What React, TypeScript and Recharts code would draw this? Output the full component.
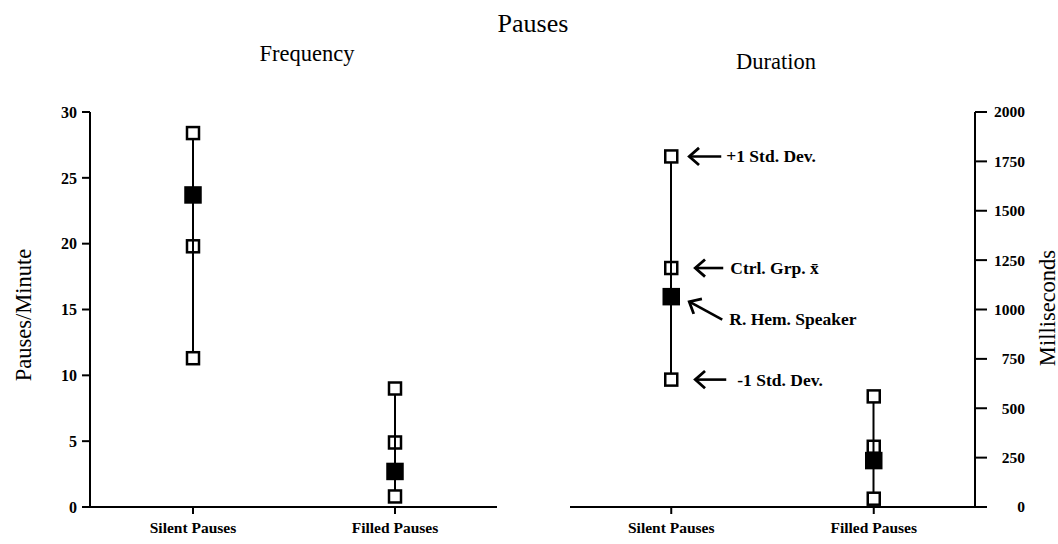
import React from 'react';
import { ComposedChart, Bar, Scatter, XAxis, YAxis } from 'recharts';

const categories = ['Silent Pauses', 'Filled Pauses'];

// Frequency (pauses per minute)
const freqPlusSD = [28.4, 9.0];
const freqCtrlMean = [19.8, 4.9];
const freqMinusSD = [11.3, 0.8];
const freqSpeaker = [23.7, 2.7];
const freqTicks = [0, 5, 10, 15, 20, 25, 30];

// Duration (milliseconds)
const durPlusSD = [1775, 560];
const durCtrlMean = [1210, 305];
const durMinusSD = [645, 42];
const durSpeaker = [1065, 235];
const durTicks = [0, 250, 500, 750, 1000, 1250, 1500, 1750, 2000];

// annotation texts for the silent pauses column of the duration panel
const noteHi = '+1 Std. Dev.';
const noteMean = 'Ctrl. Grp. x\u0304';
const noteSpk = 'R. Hem. Speaker';
const noteLo = '-1 Std. Dev.';

const FONT = '"Liberation Serif", "Times New Roman", serif';

const buildRows = (hi: number[], mean: number[], lo: number[], spk: number[]) =>
  categories.map((cat, i) => ({
    cat,
    range: [lo[i], hi[i]],
    hi: hi[i],
    mean: mean[i],
    lo: lo[i],
    spk: spk[i],
  }));

const freqRows = buildRows(freqPlusSD, freqCtrlMean, freqMinusSD, freqSpeaker);
const durRows = buildRows(durPlusSD, durCtrlMean, durMinusSD, durSpeaker);

// arrow placement relative to the marker (tip, tail, label)
const arrowStyle: Record<string, { tip: number[]; tail: number[]; label: number[] }> = {
  hi: { tip: [18, 0], tail: [50, 0], label: [55, 6] },
  mean: { tip: [24, 0], tail: [52, 0], label: [59, 6] },
  spk: { tip: [18, 5], tail: [51, 23], label: [58, 28] },
  lo: { tip: [24, 0], tail: [55, 0], label: [66, 6] },
};

const Arrow = ({ cx, cy, kind, text }: any) => {
  const s = arrowStyle[kind];
  const tx = cx + s.tip[0];
  const ty = cy + s.tip[1];
  const ex = cx + s.tail[0];
  const ey = cy + s.tail[1];
  const a = Math.atan2(ey - ty, ex - tx);
  const h = 13;
  const w = 0.72;
  return (
    <g>
      <line x1={tx} y1={ty} x2={ex} y2={ey} stroke="#000" strokeWidth={2.6} />
      <polyline
        points={`${tx + h * Math.cos(a - w)},${ty + h * Math.sin(a - w)} ${tx},${ty} ${tx + h * Math.cos(a + w)},${ty + h * Math.sin(a + w)}`}
        fill="none"
        stroke="#000"
        strokeWidth={2.8}
      />
      <text
        x={cx + s.label[0]}
        y={cy + s.label[1]}
        fontSize={17.5}
        fontWeight="bold"
        fontFamily={FONT}
        fill="#000"
      >
        {text}
      </text>
    </g>
  );
};

const makeShape = (kind: string, fill: string, size: number, note?: string) => (props: any) => {
  const { cx, cy, payload } = props;
  if (cx == null || cy == null) return <g />;
  return (
    <g>
      <rect
        x={cx - size / 2}
        y={cy - size / 2}
        width={size}
        height={size}
        fill={fill}
        stroke="#000"
        strokeWidth={2.5}
      />
      {note && payload && payload.cat === categories[0] && (
        <Arrow cx={cx} cy={cy} kind={kind} text={note} />
      )}
    </g>
  );
};

const axisStroke = { stroke: '#000', strokeWidth: 2 };
const catTick = { fontSize: 15.5, fontWeight: 'bold', fill: '#000', fontFamily: FONT };
const numTick = { fontSize: 16, fontWeight: 'bold', fill: '#000', fontFamily: FONT };

const Panel = ({ withNotes }: { withNotes?: boolean }) => [
  <Bar key="bar" dataKey="range" barSize={2} fill="#000" isAnimationActive={false} />,
  <Scatter key="mean" dataKey="mean" isAnimationActive={false}
    shape={makeShape('mean', 'none', 12, withNotes ? noteMean : undefined)} />,
  <Scatter key="hi" dataKey="hi" isAnimationActive={false}
    shape={makeShape('hi', '#fff', 12, withNotes ? noteHi : undefined)} />,
  <Scatter key="lo" dataKey="lo" isAnimationActive={false}
    shape={makeShape('lo', '#fff', 12, withNotes ? noteLo : undefined)} />,
  <Scatter key="spk" dataKey="spk" isAnimationActive={false}
    shape={makeShape('spk', '#000', 15, withNotes ? noteSpk : undefined)} />,
];

const RightTick = (p: any) => (
  <text
    x={p.x + 30}
    y={p.y}
    dy="0.35em"
    textAnchor="end"
    fontSize={15.5}
    fontWeight="bold"
    fontFamily={FONT}
    fill="#000"
  >
    {p.payload.value}
  </text>
);

const textBase: React.CSSProperties = {
  position: 'absolute',
  fontFamily: FONT,
  color: '#000',
  whiteSpace: 'nowrap',
  lineHeight: 1,
};

export default function App() {
  return (
    <div style={{ position: 'absolute', left: 0, top: 0, width: 1058, height: 544, background: '#fff' }}>
      <div style={{ ...textBase, left: 533, top: 11, fontSize: 26, transform: 'translateX(-50%)' }}>Pauses</div>
      <div style={{ ...textBase, left: 307, top: 43, fontSize: 22.5, transform: 'translateX(-50%)' }}>Frequency</div>
      <div style={{ ...textBase, left: 776, top: 51, fontSize: 22.5, transform: 'translateX(-50%)' }}>Duration</div>
      <div style={{ ...textBase, left: 24, top: 315, fontSize: 22.5, transform: 'translate(-50%,-50%) rotate(-90deg)' }}>
        Pauses/Minute
      </div>
      <div style={{ ...textBase, left: 1048, top: 308, fontSize: 22.5, transform: 'translate(-50%,-50%) rotate(-90deg)' }}>
        Milliseconds
      </div>

      <div style={{ position: 'absolute', left: 0, top: 0 }}>
        <ComposedChart width={520} height={544} data={freqRows}
          margin={{ top: 112, right: 23, bottom: 7, left: 0 }}>
          <XAxis dataKey="cat" type="category" height={30} padding={{ left: 2, right: 1 }}
            axisLine={axisStroke} tickLine={axisStroke} tickSize={7} tickMargin={8} tick={catTick} />
          <YAxis type="number" domain={[0, 30]} ticks={freqTicks} width={90} interval={0}
            axisLine={axisStroke} tickLine={axisStroke} tickSize={8} tickMargin={5} tick={numTick} />
          {Panel({})}
        </ComposedChart>
      </div>

      <div style={{ position: 'absolute', left: 520, top: 0 }}>
        <ComposedChart width={538} height={544} data={durRows}
          margin={{ top: 112, right: 0, bottom: 7, left: 50 }}>
          <XAxis dataKey="cat" type="category" height={30}
            axisLine={axisStroke} tickLine={axisStroke} tickSize={7} tickMargin={8} tick={catTick} />
          <YAxis type="number" orientation="right" domain={[0, 2000]} ticks={durTicks} width={83} interval={0}
            axisLine={axisStroke} tickLine={axisStroke} tickSize={12} tickMargin={8} tick={RightTick} />
          {Panel({ withNotes: true })}
        </ComposedChart>
      </div>
    </div>
  );
}
